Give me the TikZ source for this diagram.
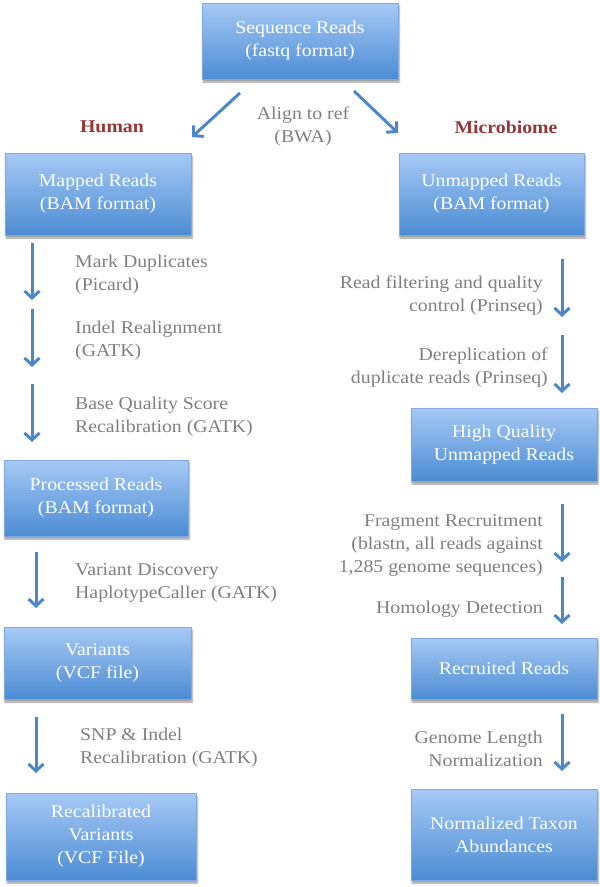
\documentclass[tikz,border=0pt]{standalone}
\usepackage{fontspec}
\setmainfont{Liberation Serif}[FakeStretch=1.1]
\usetikzlibrary{arrows.meta,shadows.blur}
\definecolor{boxtop}{HTML}{A6C9F5}
\definecolor{boxbot}{HTML}{4C8CD4}
\definecolor{boxline}{HTML}{80AAE0}
\definecolor{arrowblue}{HTML}{4C87C8}
\definecolor{labelgray}{HTML}{7F7F7F}
\definecolor{headred}{HTML}{953735}
\tikzset{
  box/.style={draw=boxline, line width=0.8pt, top color=boxtop, bottom color=boxbot,
    text=white, align=center, inner sep=0pt, font=\fontsize{18}{23}\selectfont,
    blur shadow={shadow xshift=1pt, shadow yshift=-3pt, shadow blur steps=6, shadow opacity=40}},
  lbl/.style={text=labelgray, inner sep=0pt, font=\fontsize{18}{23}\selectfont},
  lblL/.style={lbl, anchor=west, align=left},
  lblR/.style={lbl, anchor=east, align=right},
  head/.style={text=headred, inner sep=0pt, font=\fontsize{18}{23}\selectfont\bfseries},
  flow/.style={draw=arrowblue, line width=3pt, -{Straight Barb[length=7pt,width=15pt]}}
}
\begin{document}
\begin{tikzpicture}[x=1pt,y=-1pt]
\useasboundingbox (0,0) rectangle (600,887);
% boxes
\node[box, minimum width=196pt, minimum height=76pt] (seq) at (300,41) {Sequence Reads\\(fastq format)};
\node[box, minimum width=186pt, minimum height=82pt] (mapped) at (98,194) {Mapped Reads\\(BAM format)};
\node[box, minimum width=185pt, minimum height=82pt] (unmapped) at (491.5,194) {Unmapped Reads\\(BAM format)};
\node[box, minimum width=184pt, minimum height=76pt] (processed) at (96,498) {Processed Reads\\(BAM format)};
\node[box, minimum width=187pt, minimum height=72pt] (variants) at (97.5,663) {Variants\\(VCF file)};
\node[box, minimum width=190pt, minimum height=87pt] (recal) at (101,836.5) {Recalibrated\\Variants\\(VCF File)};
\node[box, minimum width=186pt, minimum height=73pt] (hq) at (504,444.5) {High Quality\\Unmapped Reads};
\node[box, minimum width=186pt, minimum height=61pt] (recruited) at (504,668.5) {Recruited Reads};
\node[box, minimum width=186pt, minimum height=91pt] (norm) at (504,834.5) {Normalized Taxon\\Abundances};
% headers
\node[head] (human) at (112,127) {Human};
\node[head] (micro) at (506,127) {Microbiome};
% labels
\node[lbl, align=center] (align) at (303,126.5) {Align to ref\\(BWA)};
\node[lblL] (markdup) at (75,274.5) {Mark Duplicates\\(Picard)};
\node[lblL] (indel) at (75,341) {Indel Realignment\\(GATK)};
\node[lblL] (bqsr) at (75,416.5) {Base Quality Score\\Recalibration (GATK)};
\node[lblL] (vardisc) at (75,582.5) {Variant Discovery\\HaplotypeCaller (GATK)};
\node[lblL] (snp) at (80,747.5) {SNP \& Indel\\Recalibration (GATK)};
\node[lblR] (filt) at (543,295.5) {Read filtering and quality\\control (Prinseq)};
\node[lblR] (derep) at (548,367.5) {Dereplication of\\duplicate reads (Prinseq)};
\node[lblR] (frag) at (543,545) {Fragment Recruitment\\(blastn, all reads against\\1,285 genome sequences)};
\node[lblR] (homol) at (543,609) {Homology Detection};
\node[lblR] (glen) at (543,749) {Genome Length\\Normalization};
% arrow end points
\coordinate (dl1) at (240,93); \coordinate (dl2) at (192,137);
\coordinate (dr1) at (354,91); \coordinate (dr2) at (398,133);
\coordinate (a1s) at (32,243); \coordinate (a1e) at (32,300);
\coordinate (a2s) at (32,309); \coordinate (a2e) at (32,367);
\coordinate (a3s) at (32,384); \coordinate (a3e) at (32,442);
\coordinate (a4s) at (36,552); \coordinate (a4e) at (36,608);
\coordinate (a5s) at (36,717); \coordinate (a5e) at (36,773);
\coordinate (b1s) at (562,259); \coordinate (b1e) at (562,317);
\coordinate (b2s) at (562,335); \coordinate (b2e) at (562,393);
\coordinate (b3s) at (562,504); \coordinate (b3e) at (562,562);
\coordinate (b4s) at (562,577); \coordinate (b4e) at (562,624);
\coordinate (b5s) at (562,714); \coordinate (b5e) at (562,771);
% arrows
\draw[flow] (dl1) -- (dl2);
\draw[flow] (dr1) -- (dr2);
\draw[flow] (a1s) -- (a1e);
\draw[flow] (a2s) -- (a2e);
\draw[flow] (a3s) -- (a3e);
\draw[flow] (a4s) -- (a4e);
\draw[flow] (a5s) -- (a5e);
\draw[flow] (b1s) -- (b1e);
\draw[flow] (b2s) -- (b2e);
\draw[flow] (b3s) -- (b3e);
\draw[flow] (b4s) -- (b4e);
\draw[flow] (b5s) -- (b5e);
\end{tikzpicture}
\end{document}
